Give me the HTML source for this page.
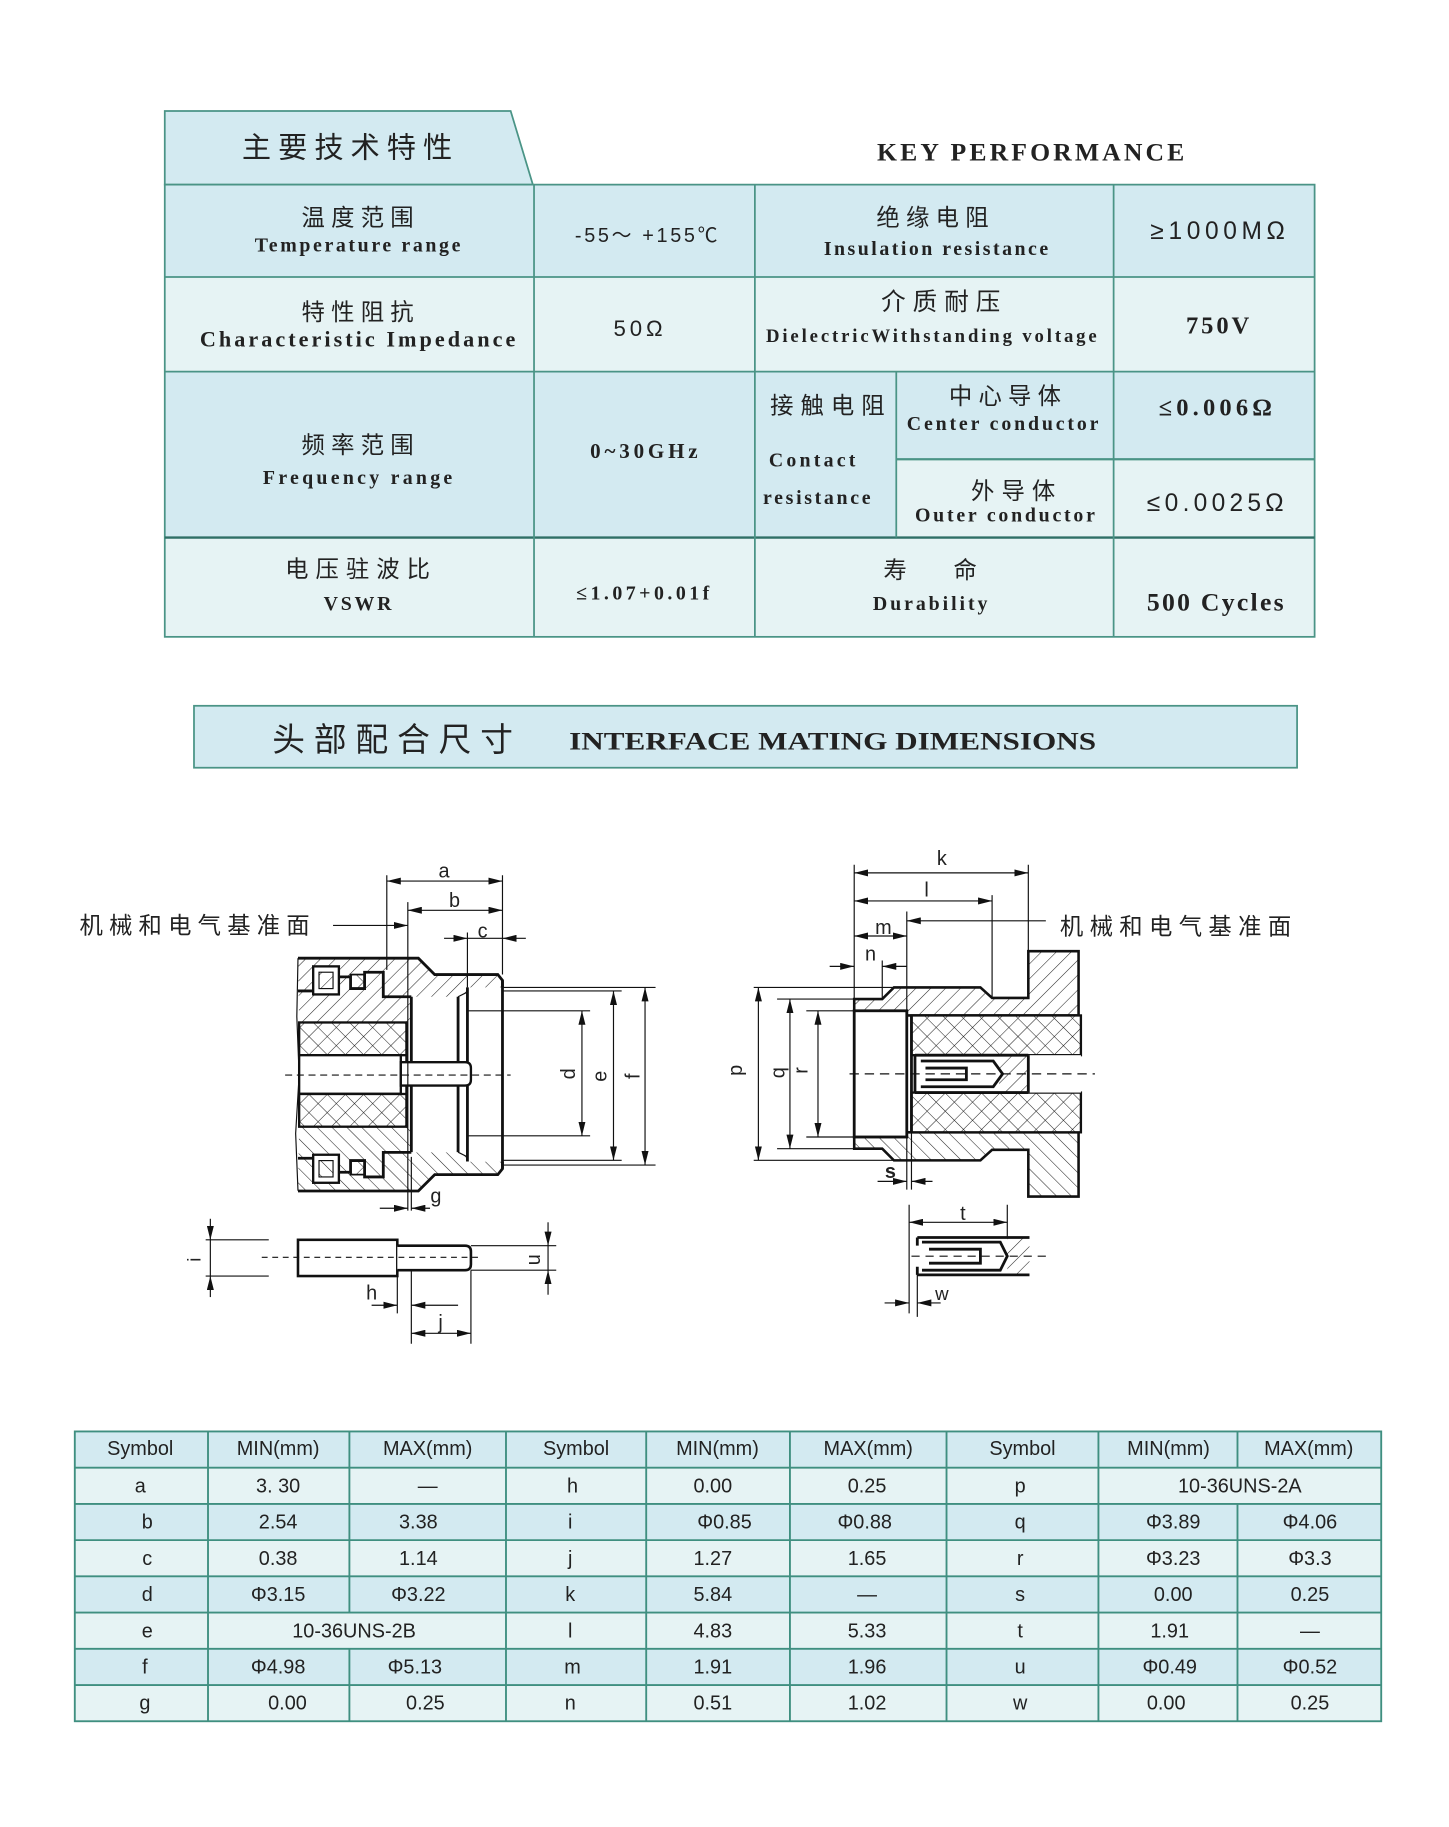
<!DOCTYPE html>
<html><head><meta charset="utf-8">
<style>
html,body{margin:0;padding:0;background:#fff;}
svg{display:block;}
.cn{font-family:"Liberation Sans","Noto Sans CJK SC",sans-serif;fill:#222;}
.en{font-family:"Liberation Serif","Noto Serif CJK SC",serif;font-weight:bold;fill:#222;}
.sa{font-family:"Liberation Sans","Noto Sans CJK SC",sans-serif;fill:#222;}
.dl{stroke:#111;stroke-width:1;fill:none;}
.ol{stroke:#111;stroke-width:2.4;fill:none;}
</style></head><body>
<svg width="1449" height="1827" viewBox="0 0 1240 1563.5" xmlns="http://www.w3.org/2000/svg">
<defs>
<pattern id="h" patternUnits="userSpaceOnUse" width="9" height="9" patternTransform="rotate(45)">
<rect width="9" height="9" fill="#fff"/><line x1="0" y1="0" x2="0" y2="9" stroke="#222" stroke-width="0.9"/></pattern>
<pattern id="x" patternUnits="userSpaceOnUse" width="11" height="11" patternTransform="rotate(45)">
<rect width="11" height="11" fill="#fff"/><line x1="0" y1="0" x2="0" y2="11" stroke="#222" stroke-width="0.9"/><line x1="0" y1="0" x2="11" y2="0" stroke="#222" stroke-width="0.9"/></pattern>
<marker id="a" viewBox="0 0 12 6" refX="12" refY="3" markerWidth="12" markerHeight="6" markerUnits="userSpaceOnUse" orient="auto-start-reverse"><path d="M0,0 L12,3 L0,6 z" fill="#111"/></marker>
</defs>

<!-- KEY PERFORMANCE header -->
<path d="M141,95 L437,95 L456,158 L141,158 Z" fill="#d3eaf1" stroke="#4a9486" stroke-width="1.5"/>
<text x="297" y="127" class="cn" font-size="25" text-anchor="middle" dominant-baseline="central" textLength="180" lengthAdjust="spacing">主要技术特性</text>
<text x="882" y="130" class="en" font-size="22" text-anchor="middle" dominant-baseline="central" textLength="263" lengthAdjust="spacing">KEY  PERFORMANCE</text>

<!-- table fills -->
<rect x="141" y="158" width="984" height="79" fill="#d3eaf1"/>
<rect x="141" y="237" width="984" height="81" fill="#e6f3f4"/>
<rect x="141" y="318" width="984" height="142" fill="#d3eaf1"/>
<rect x="767" y="393" width="358" height="67" fill="#e6f3f4"/>
<rect x="141" y="460" width="984" height="85" fill="#e6f3f4"/>
<g stroke="#4a9486" stroke-width="1.5" fill="none">
<rect x="141" y="158" width="984" height="387"/>
<line x1="141" y1="237" x2="1125" y2="237"/>
<line x1="141" y1="318" x2="1125" y2="318"/>
<line x1="141" y1="460" x2="1125" y2="460" stroke="#2f6f66" stroke-width="2"/>
<line x1="767" y1="393" x2="1125" y2="393" stroke-width="2"/>
<line x1="457" y1="158" x2="457" y2="545"/>
<line x1="646" y1="158" x2="646" y2="545"/>
<line x1="953" y1="158" x2="953" y2="545"/>
<line x1="767" y1="318" x2="767" y2="460"/>
</g>
<g text-anchor="middle" dominant-baseline="central" lengthAdjust="spacingAndGlyphs">
<text x="306" y="186" class="cn" font-size="20" textLength="96">温度范围</text>
<text x="306" y="210" class="en" font-size="17" textLength="176">Temperature range</text>
<text x="553" y="202" class="sa" font-size="17" textLength="122">-55～ +155℃</text>
<text x="798" y="186" class="cn" font-size="20" textLength="96">绝缘电阻</text>
<text x="801" y="213" class="en" font-size="17" textLength="192">Insulation resistance</text>
<text x="1042" y="198" class="sa" font-size="21" textLength="115">≥1000MΩ</text>

<text x="306" y="267" class="cn" font-size="20" textLength="96">特性阻抗</text>
<text x="306" y="290" class="en" font-size="19" textLength="270">Characteristic Impedance</text>
<text x="546" y="281" class="sa" font-size="19" textLength="42">50Ω</text>
<text x="805" y="259" class="cn" font-size="21" textLength="102">介质耐压</text>
<text x="797" y="288" class="en" font-size="16" textLength="283">DielectricWithstanding voltage</text>
<text x="1042" y="279" class="en" font-size="21" textLength="54">750V</text>

<text x="306" y="381" class="cn" font-size="20" textLength="96">频率范围</text>
<text x="306" y="409" class="en" font-size="17" textLength="162">Frequency  range</text>
<text x="551" y="386" class="en" font-size="18" textLength="92">0~30GHz</text>
<text x="708" y="347" class="cn" font-size="20" textLength="98">接触电阻</text>
<text x="695" y="394" class="en" font-size="17" textLength="74">Contact</text>
<text x="699" y="426" class="en" font-size="17" textLength="92">resistance</text>
<text x="860" y="339" class="cn" font-size="20" textLength="96">中心导体</text>
<text x="858" y="363" class="en" font-size="17" textLength="164">Center conductor</text>
<text x="1040" y="349" class="en" font-size="21" textLength="97">≤0.006Ω</text>
<text x="867" y="420" class="cn" font-size="20" textLength="72">外导体</text>
<text x="860" y="441" class="en" font-size="17" textLength="154">Outer conductor</text>
<text x="1040" y="431" class="sa" font-size="21" textLength="117">≤0.0025Ω</text>

<text x="306" y="487" class="cn" font-size="20" textLength="124">电压驻波比</text>
<text x="306" y="517" class="en" font-size="17" textLength="58">VSWR</text>
<text x="550" y="508" class="en" font-size="17" textLength="114">≤1.07+0.01f</text>
<text x="796" y="488" class="cn" font-size="20">寿　　命</text>
<text x="796" y="517" class="en" font-size="17" textLength="98">Durability</text>
<text x="1040" y="515" class="en" font-size="22" textLength="117">500 Cycles</text>
</g>

<!-- Interface header -->
<rect x="166" y="604" width="944" height="53" fill="#d3eaf1" stroke="#4a9486" stroke-width="1.5"/>
<text x="233" y="633" class="cn" font-size="28" dominant-baseline="central" textLength="206" lengthAdjust="spacing">头部配合尺寸</text>
<text x="487" y="634" class="en" font-size="22" dominant-baseline="central" textLength="451" lengthAdjust="spacingAndGlyphs">INTERFACE  MATING  DIMENSIONS</text>

<!-- LEFT DRAWING -->
<g>
<text x="68" y="792" class="cn" font-size="20" dominant-baseline="central" textLength="197" lengthAdjust="spacing">机械和电气基准面</text>
<g id="lt">
<path d="M255,820 L358,820 L372,834 L426,834 L430,839 L430,845 L400,845 L400,849 L392,853 L352,853 L352,875 L256,875 Z" fill="url(#h)"/>
<rect x="268" y="827" width="22" height="24" fill="#fff" stroke="#111" stroke-width="2"/>
<rect x="273" y="832" width="12" height="14" fill="url(#h)" stroke="#111" stroke-width="1"/>
<rect x="300" y="834" width="12" height="12" fill="url(#x)" stroke="#111" stroke-width="1.5"/>
<path d="M255,848 L268,848 M290,836 L300,836 L300,846 L312,846 L312,832 L328,832 L328,853 L352,853" class="ol"/>
<rect x="256" y="875" width="92" height="28" fill="url(#x)" stroke="#111" stroke-width="2"/>
<path d="M255,820 L358,820 L372,834 L426,834 L430,839 L430,845" class="ol"/>
</g>
<use href="#lt" transform="translate(0,1839.2) scale(1,-1)"/>
<path d="M430,839 L430,1000" class="ol"/>
<path d="M400,845 L400,994 M392,853 L392,986 M352,853 L352,986 M348,875 L348,964" class="ol"/>
<path d="M392,853 L400,849 M392,986 L400,990" class="dl"/>
<rect x="256" y="903" width="87" height="33" fill="#fff" stroke="#111" stroke-width="2"/>
<path d="M343,909 L398,909 Q403,909 403,914 L403,924 Q403,929 398,929 L343,929 Z" fill="#fff" stroke="#111" stroke-width="2"/>
<path d="M255,820 L254,870 L256,920 L253,970 L255,1019" class="dl"/>
<line x1="244" y1="920" x2="437" y2="920" stroke="#111" stroke-width="1" stroke-dasharray="6,4"/>
<path d="M331,749 L331,830 M349,772 L349,1036 M352,990 L352,1036 M430,749 L430,834 M400,798 L400,845" class="dl"/>
<line x1="331" y1="754" x2="430" y2="754" class="dl" marker-start="url(#a)" marker-end="url(#a)"/>
<line x1="349" y1="779" x2="430" y2="779" class="dl" marker-start="url(#a)" marker-end="url(#a)"/>
<line x1="380" y1="803" x2="400" y2="803" class="dl" marker-end="url(#a)"/>
<line x1="450" y1="803" x2="430" y2="803" class="dl" marker-end="url(#a)"/>
<line x1="400" y1="803" x2="430" y2="803" class="dl"/>
<line x1="285" y1="792" x2="349" y2="792" class="dl" marker-end="url(#a)"/>
<line x1="325" y1="1034" x2="349" y2="1034" class="dl" marker-end="url(#a)"/>
<line x1="368" y1="1034" x2="352" y2="1034" class="dl" marker-end="url(#a)"/>
<text x="380" y="746" class="sa" font-size="17" text-anchor="middle" dominant-baseline="central">a</text>
<text x="389" y="771" class="sa" font-size="17" text-anchor="middle" dominant-baseline="central">b</text>
<text x="413" y="797" class="sa" font-size="17" text-anchor="middle" dominant-baseline="central">c</text>
<text x="373" y="1024" class="sa" font-size="17" text-anchor="middle" dominant-baseline="central">g</text>
<path d="M430,845 L561,845 M430,848 L532,848 M400,865 L505,865 M400,972 L505,972 M430,993 L532,993 M430,997 L561,997" class="dl"/>
<line x1="498" y1="865" x2="498" y2="972" class="dl" marker-start="url(#a)" marker-end="url(#a)"/>
<line x1="525" y1="848" x2="525" y2="993" class="dl" marker-start="url(#a)" marker-end="url(#a)"/>
<line x1="552" y1="845" x2="552" y2="997" class="dl" marker-start="url(#a)" marker-end="url(#a)"/>
<text class="sa" font-size="17" text-anchor="middle" dominant-baseline="central" transform="translate(487,919) rotate(-90)">d</text>
<text class="sa" font-size="17" text-anchor="middle" dominant-baseline="central" transform="translate(514,921) rotate(-90)">e</text>
<text class="sa" font-size="17" text-anchor="middle" dominant-baseline="central" transform="translate(542,921) rotate(-90)">f</text>
<rect x="255" y="1061" width="85" height="31" fill="#fff" stroke="#111" stroke-width="2.2"/>
<path d="M340,1066 L398,1066 Q403,1066 403,1071 L403,1082 Q403,1087 398,1087 L340,1087" fill="#fff" stroke="#111" stroke-width="2.2"/>
<line x1="224" y1="1076" x2="410" y2="1076" stroke="#111" stroke-width="1" stroke-dasharray="5,4"/>
<path d="M176,1061 L230,1061 M176,1092 L230,1092 M403,1066 L476,1066 M403,1087 L476,1087" class="dl"/>
<line x1="180" y1="1043" x2="180" y2="1061" class="dl" marker-end="url(#a)"/>
<line x1="180" y1="1110" x2="180" y2="1092" class="dl" marker-end="url(#a)"/>
<line x1="469" y1="1046" x2="469" y2="1066" class="dl" marker-end="url(#a)"/>
<line x1="469" y1="1108" x2="469" y2="1087" class="dl" marker-end="url(#a)"/>
<line x1="180" y1="1061" x2="180" y2="1092" class="dl"/>
<line x1="469" y1="1066" x2="469" y2="1087" class="dl"/>
<text class="sa" font-size="16" text-anchor="middle" dominant-baseline="central" transform="translate(166,1078) rotate(-90)">i</text>
<text class="sa" font-size="17" text-anchor="middle" dominant-baseline="central" transform="translate(457,1078) rotate(-90)">u</text>
<path d="M340,1092 L340,1124 M352,1087 L352,1150 M403,1087 L403,1150" class="dl"/>
<line x1="318" y1="1117" x2="340" y2="1117" class="dl" marker-end="url(#a)"/>
<line x1="392" y1="1117" x2="352" y2="1117" class="dl" marker-end="url(#a)"/>
<line x1="352" y1="1141" x2="403" y2="1141" class="dl" marker-start="url(#a)" marker-end="url(#a)"/>
<text x="318" y="1107" class="sa" font-size="17" text-anchor="middle" dominant-baseline="central">h</text>
<text x="377" y="1132" class="sa" font-size="17" text-anchor="middle" dominant-baseline="central">j</text>
</g>

<!-- RIGHT DRAWING -->
<g>
<text x="907" y="793" class="cn" font-size="20" dominant-baseline="central" textLength="198" lengthAdjust="spacing">机械和电气基准面</text>
<g id="rt">
<path d="M731,855 L755,855 L765,845 L839,845 L849,854 L880,854 L880,814 L923,814 L923,869 L776,869 L776,865 L731,865 Z" fill="url(#h)" stroke="#111" stroke-width="2.2"/>
<rect x="780" y="869" width="145" height="34" fill="url(#x)" stroke="#111" stroke-width="2"/>
</g>
<use href="#rt" transform="translate(0,1838) scale(1,-1)"/>
<rect x="731" y="865" width="45" height="108" fill="#fff" stroke="#111" stroke-width="2.4"/>
<line x1="780" y1="869" x2="780" y2="969" class="ol"/>
<rect x="783" y="903" width="142" height="32" fill="#fff"/>
<path d="M855,903 L880,903 L880,935 L855,935 Z" fill="url(#h)"/>
<path d="M783,903 L880,903 M783,935 L880,935 M783,903 L783,935 M880,903 L880,935" class="ol"/>
<path d="M788,908 L850,908 L858,919 L850,930 L788,930 M792,914 L827,914 L827,924 L792,924" class="ol" stroke-width="1.8"/>
<line x1="727" y1="919" x2="937" y2="919" stroke="#111" stroke-width="1" stroke-dasharray="8,5"/>
<path d="M731,740 L731,855 M880,740 L880,814 M849,766 L849,854 M776,780 L776,1018 M780,969 L780,1018 M755,822 L755,855" class="dl"/>
<line x1="731" y1="747" x2="880" y2="747" class="dl" marker-start="url(#a)" marker-end="url(#a)"/>
<line x1="731" y1="771" x2="849" y2="771" class="dl" marker-start="url(#a)" marker-end="url(#a)"/>
<line x1="895" y1="788" x2="776" y2="788" class="dl" marker-end="url(#a)"/>
<line x1="731" y1="801" x2="776" y2="801" class="dl" marker-start="url(#a)" marker-end="url(#a)"/>
<line x1="710" y1="827" x2="731" y2="827" class="dl" marker-end="url(#a)"/>
<line x1="776" y1="827" x2="755" y2="827" class="dl" marker-end="url(#a)"/>
<line x1="751" y1="1011" x2="776" y2="1011" class="dl" marker-end="url(#a)"/>
<line x1="798" y1="1011" x2="780" y2="1011" class="dl" marker-end="url(#a)"/>
<text x="806" y="735" class="sa" font-size="17" text-anchor="middle" dominant-baseline="central">k</text>
<text x="793" y="762" class="sa" font-size="17" text-anchor="middle" dominant-baseline="central">l</text>
<text x="756" y="794" class="sa" font-size="17" text-anchor="middle" dominant-baseline="central">m</text>
<text x="745" y="817" class="sa" font-size="17" text-anchor="middle" dominant-baseline="central">n</text>
<text x="762" y="1003" class="sa" font-size="17" font-weight="bold" text-anchor="middle" dominant-baseline="central">s</text>
<path d="M645,845 L765,845 M665,855 L731,855 M690,865 L731,865 M690,973 L731,973 M665,983 L731,983 M645,993 L765,993" class="dl"/>
<line x1="649" y1="845" x2="649" y2="993" class="dl" marker-start="url(#a)" marker-end="url(#a)"/>
<line x1="676" y1="855" x2="676" y2="983" class="dl" marker-start="url(#a)" marker-end="url(#a)"/>
<line x1="700" y1="865" x2="700" y2="973" class="dl" marker-start="url(#a)" marker-end="url(#a)"/>
<text class="sa" font-size="17" text-anchor="middle" dominant-baseline="central" transform="translate(630,916) rotate(-90)">p</text>
<text class="sa" font-size="17" text-anchor="middle" dominant-baseline="central" transform="translate(666,918) rotate(-90)">q</text>
<text class="sa" font-size="17" text-anchor="middle" dominant-baseline="central" transform="translate(686,916) rotate(-90)">r</text>
<rect x="785" y="1059" width="96" height="32" fill="#fff"/>
<path d="M862,1059 L881,1059 L881,1091 L862,1091 Z" fill="url(#h)"/>
<path d="M785,1059 L881,1059 M785,1091 L881,1091 M785,1059 L785,1066 M785,1084 L785,1091" class="ol"/>
<path d="M789,1063 L856,1063 L862,1075 L856,1087 L789,1087 M795,1069 L839,1069 L839,1081 L795,1081" class="ol" stroke-width="1.8"/>
<line x1="780" y1="1075" x2="900" y2="1075" stroke="#111" stroke-width="1" stroke-dasharray="7,5"/>
<path d="M778,1031 L778,1124 M862,1031 L862,1059 M785,1091 L785,1127" class="dl"/>
<line x1="778" y1="1046" x2="862" y2="1046" class="dl" marker-start="url(#a)" marker-end="url(#a)"/>
<line x1="757" y1="1115" x2="778" y2="1115" class="dl" marker-end="url(#a)"/>
<line x1="805" y1="1115" x2="785" y2="1115" class="dl" marker-end="url(#a)"/>
<text x="824" y="1039" class="sa" font-size="17" text-anchor="middle" dominant-baseline="central">t</text>
<text x="806" y="1107" class="sa" font-size="16" text-anchor="middle" dominant-baseline="central">w</text>
</g>

<!-- BOTTOM TABLE -->
<g>
<rect x="64" y="1225" width="1118" height="31" fill="#d3eaf1"/>
<rect x="64" y="1256" width="1118" height="31" fill="#e6f3f4"/>
<rect x="64" y="1287" width="1118" height="31" fill="#d3eaf1"/>
<rect x="64" y="1318" width="1118" height="31" fill="#e6f3f4"/>
<rect x="64" y="1349" width="1118" height="31" fill="#d3eaf1"/>
<rect x="64" y="1380" width="1118" height="31" fill="#e6f3f4"/>
<rect x="64" y="1411" width="1118" height="31" fill="#d3eaf1"/>
<rect x="64" y="1442" width="1118" height="31" fill="#e6f3f4"/>
<g stroke="#3f8f80" stroke-width="1.6" fill="none">
<rect x="64" y="1225" width="1118" height="248"/>
<path d="M64,1256H1182M64,1287H1182M64,1318H1182M64,1349H1182M64,1380H1182M64,1411H1182M64,1442H1182"/>
<path d="M178,1225V1473M299,1225V1380M299,1411V1473M433,1225V1473M553,1225V1473M676,1225V1473M810,1225V1473M940,1225V1473M1059,1225V1256M1059,1287V1473"/>
</g>
<g class="sa" font-size="17" text-anchor="middle" dominant-baseline="central">
<text x="120" y="1240">Symbol</text><text x="238" y="1240">MIN(mm)</text><text x="366" y="1240">MAX(mm)</text>
<text x="493" y="1240">Symbol</text><text x="614" y="1240">MIN(mm)</text><text x="743" y="1240">MAX(mm)</text>
<text x="875" y="1240">Symbol</text><text x="1000" y="1240">MIN(mm)</text><text x="1120" y="1240">MAX(mm)</text>

<text x="120" y="1272">a</text><text x="238" y="1272">3. 30</text><text x="366" y="1272">—</text>
<text x="490" y="1272">h</text><text x="610" y="1272">0.00</text><text x="742" y="1272">0.25</text>
<text x="873" y="1272">p</text><text x="1061" y="1272">10-36UNS-2A</text>

<text x="126" y="1303">b</text><text x="238" y="1303">2.54</text><text x="358" y="1303">3.38</text>
<text x="488" y="1303">i</text><text x="620" y="1303">Φ0.85</text><text x="740" y="1303">Φ0.88</text>
<text x="873" y="1303">q</text><text x="1004" y="1303">Φ3.89</text><text x="1121" y="1303">Φ4.06</text>

<text x="126" y="1334">c</text><text x="238" y="1334">0.38</text><text x="358" y="1334">1.14</text>
<text x="488" y="1334">j</text><text x="610" y="1334">1.27</text><text x="742" y="1334">1.65</text>
<text x="873" y="1334">r</text><text x="1004" y="1334">Φ3.23</text><text x="1121" y="1334">Φ3.3</text>

<text x="126" y="1365">d</text><text x="238" y="1365">Φ3.15</text><text x="358" y="1365">Φ3.22</text>
<text x="488" y="1365">k</text><text x="610" y="1365">5.84</text><text x="742" y="1365">—</text>
<text x="873" y="1365">s</text><text x="1004" y="1365">0.00</text><text x="1121" y="1365">0.25</text>

<text x="126" y="1396">e</text><text x="303" y="1396">10-36UNS-2B</text>
<text x="488" y="1396">l</text><text x="610" y="1396">4.83</text><text x="742" y="1396">5.33</text>
<text x="873" y="1396">t</text><text x="1001" y="1396">1.91</text><text x="1121" y="1396">—</text>

<text x="124" y="1427">f</text><text x="238" y="1427">Φ4.98</text><text x="355" y="1427">Φ5.13</text>
<text x="490" y="1427">m</text><text x="610" y="1427">1.91</text><text x="742" y="1427">1.96</text>
<text x="873" y="1427">u</text><text x="1001" y="1427">Φ0.49</text><text x="1121" y="1427">Φ0.52</text>

<text x="124" y="1458">g</text><text x="246" y="1458">0.00</text><text x="364" y="1458">0.25</text>
<text x="488" y="1458">n</text><text x="610" y="1458">0.51</text><text x="742" y="1458">1.02</text>
<text x="873" y="1458">w</text><text x="998" y="1458">0.00</text><text x="1121" y="1458">0.25</text>
</g>
</g>
</svg>
</body></html>
